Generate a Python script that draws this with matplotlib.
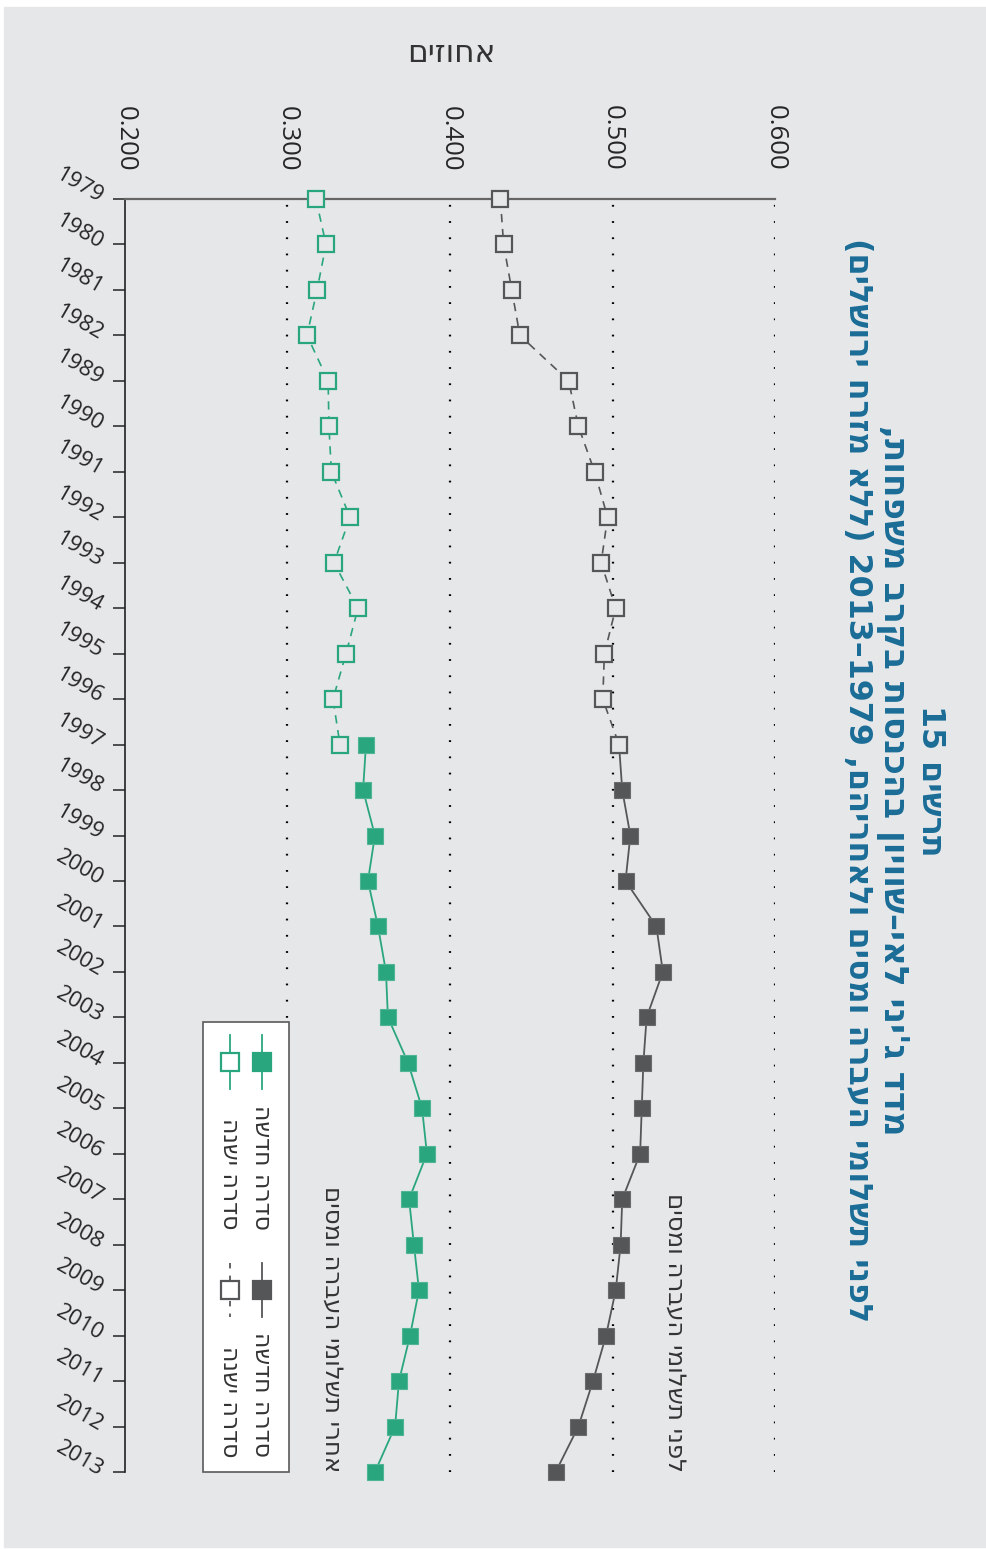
import re
import matplotlib
matplotlib.use("Agg")
import matplotlib.pyplot as plt
from matplotlib.patches import Rectangle
from matplotlib.lines import Line2D

plt.rcParams['font.family'] = ['Open Sans', 'Liberation Sans', 'DejaVu Sans']
HEB = ['DejaVu Sans']

# data
years = ['1979', '1980', '1981', '1982', '1989', '1990', '1991', '1992', '1993',
         '1994', '1995', '1996', '1997', '1998', '1999', '2000', '2001', '2002',
         '2003', '2004', '2005', '2006', '2007', '2008', '2009', '2010', '2011',
         '2012', '2013']
before_old = [0.431, 0.433, 0.438, 0.443, 0.473, 0.479, 0.489, 0.497, 0.493,
              0.502, 0.495, 0.494, 0.504]
before_new = [0.504, 0.506, 0.511, 0.508, 0.527, 0.531, 0.521, 0.519, 0.518,
              0.517, 0.506, 0.505, 0.502, 0.496, 0.488, 0.479, 0.465]
after_old = [0.3175, 0.3237, 0.3182, 0.312, 0.325, 0.3255, 0.327, 0.3385,
             0.3286, 0.3434, 0.336, 0.328, 0.3323]
after_new = [0.3483, 0.3465, 0.3538, 0.3495, 0.3557, 0.3606, 0.3618, 0.3742,
             0.3828, 0.3858, 0.3748, 0.3778, 0.3809, 0.3754, 0.3686, 0.3662,
             0.3538]
value_ticks = [0.2, 0.3, 0.4, 0.5, 0.6]

title1 = 'תרשים 15'
title2 = "מדד ג'יני לאי–שוויון בהכנסות בקרב משפחות,"
title3 = 'לפני תשלומי העברה ומסים ולאחריהם, 1979–2013 (ללא מזרח ירושלים)'
label_before = 'לפני תשלומי העברה ומסים'
label_after = 'אחרי תשלומי העברה ומסים'
leg_new = 'סדרה חדשה'
leg_old = 'סדרה ישנה'
axis_label = 'אחוזים'

BG = '#e6e7e9'
GREEN = '#2aa67f'
GRAY = '#555658'
BLUE = '#1a6d97'
TXT = '#262626'
W, H = 987, 1549


def vis(s):
    # logical hebrew -> visual order (numbers stay left to right)
    r = s[::-1]
    r = re.sub(r'[0-9]+', lambda m: m.group(0)[::-1], r)
    return r.translate(str.maketrans('()', ')('))


def fx(x):
    return x / W


def fy(y):
    return 1 - y / H


def fit(t, target, vertical=True):
    # scale the font so the text is as long as in the reference
    r = fig.canvas.get_renderer()
    bb = t.get_window_extent(r)
    size = bb.height if vertical else bb.width
    t.set_fontsize(t.get_fontsize() * target / size)
    return t.get_fontsize()


fig = plt.figure(figsize=(W / 100, H / 100), dpi=100, facecolor='white')
fig.patches.append(Rectangle((fx(4), fy(1547)), fx(982), 1540 / H,
                             transform=fig.transFigure, color=BG, zorder=-10))

ax = fig.add_axes([fx(125), fy(1472), fx(650), (1472 - 199) / H])
ax.set_facecolor('none')

n_old = len(before_old)
idx_old = list(range(n_old))
idx_new = list(range(n_old - 1, len(years)))

ax.plot(before_new, idx_new, '-', color=GRAY, lw=1.3, marker='s', ms=11,
        mfc=GRAY, mec='#6a6b6d', mew=0.8, clip_on=False, zorder=3)
ax.plot(after_new, idx_new, '-', color=GREEN, lw=1.3, marker='s', ms=11,
        mfc=GREEN, mec='#4fb592', mew=0.8, clip_on=False, zorder=3)
ax.plot(before_old, idx_old, color=GRAY, lw=1.2, ls=(0, (5, 4)), marker='s',
        ms=11, mfc=BG, mec=GRAY, mew=1.6, clip_on=False, zorder=4)
ax.plot(after_old, idx_old, color=GREEN, lw=1.2, ls=(0, (5, 4)), marker='s',
        ms=11, mfc=BG, mec=GREEN, mew=1.6, clip_on=False, zorder=4)

ax.set_xlim(0.2, 0.6)
ax.set_ylim(len(years) - 1, 0)
ax.set_xticks(value_ticks)
ax.set_xticklabels(['%.3f' % v for v in value_ticks], rotation=-90,
                   fontsize=18.5, color=TXT)
ax.xaxis.tick_top()
ax.tick_params(axis='x', length=0, pad=20)
ax.set_yticks(range(len(years)))
ax.set_yticklabels(years, rotation=-30, ha='right', va='center',
                   rotation_mode='anchor', fontsize=16, color=TXT)
ax.tick_params(axis='y', length=9, width=1.2, color='#333333', pad=8)

for v in value_ticks[1:]:
    ax.axvline(v, color='black', lw=1.6, ls=(0, (0.8, 6.5)), zorder=1)

for s in ['right', 'bottom']:
    ax.spines[s].set_visible(False)
ax.spines['left'].set_color('#222222')
ax.spines['left'].set_linewidth(1.2)
ax.spines['top'].set_color('#666666')
ax.spines['top'].set_linewidth(1.6)

t_before = ax.text(0.5385, len(years) - 1, vis(label_before), rotation=-90,
                   ha='center', va='bottom', fontsize=16, color='#333333',
                   family=HEB)
t_after = ax.text(0.3274, len(years) - 1, vis(label_after), rotation=-90,
                  ha='center', va='bottom', fontsize=16, color='#333333',
                  family=HEB)

# titles
t1 = fig.text(fx(931), fy(781), vis(title1), rotation=-90, ha='center',
              va='center', fontsize=19, fontweight='bold', color=BLUE,
              family=HEB)
t2 = fig.text(fx(893), fy(780), vis(title2), rotation=-90, ha='center',
              va='center', fontsize=19, fontweight='bold', color=BLUE,
              family=HEB)
t3 = fig.text(fx(857), fy(780), vis(title3), rotation=-90, ha='center',
              va='center', fontsize=19, fontweight='bold', color=BLUE,
              family=HEB)
t_ax = fig.text(fx(451), fy(53), vis(axis_label), ha='center', va='center',
                fontsize=20, color='#333333', family=HEB)

# legend box
fig.patches.append(Rectangle((fx(203), fy(1472)), fx(86), 450 / H,
                             transform=fig.transFigure, facecolor='white',
                             edgecolor='#5a5a5a', lw=1.2, zorder=5))
entries = [(262, 1062, 1230, GREEN, True, '-', leg_new),
           (262, 1290, 1457, GRAY, True, '-', leg_new),
           (230, 1062, 1230, GREEN, False, '-', leg_old),
           (230, 1290, 1457, GRAY, False, (0, (3, 4)), leg_old)]
leg_texts = []
for x, y, yend, c, filled, ls, lab in entries:
    fig.add_artist(Line2D([fx(x), fx(x)], [fy(y - 27), fy(y + 27)],
                          transform=fig.transFigure, color=c, lw=1.3, ls=ls,
                          zorder=6))
    fig.add_artist(Line2D([fx(x)], [fy(y)], transform=fig.transFigure,
                          marker='s', ms=13, mfc=c if filled else 'white',
                          mec=c, mew=1.6, ls='none', zorder=7))
    leg_texts.append(fig.text(fx(x), fy(yend), vis(lab), rotation=-90,
                              ha='center', va='bottom', fontsize=16,
                              color='#333333', zorder=7, family=HEB))

s3 = fit(t3, 1084)
s2 = fit(t2, 760)
t2.set_fontsize((s2 + s3) / 2)
t1.set_fontsize(s3)
fit(t_before, 280)
fit(t_after, 286)
fit(t_ax, 88, vertical=False)
fit(leg_texts[0], 125)
for t in leg_texts[1:]:
    t.set_fontsize(leg_texts[0].get_fontsize())

fig.savefig('out.png', dpi=100, facecolor='white')
